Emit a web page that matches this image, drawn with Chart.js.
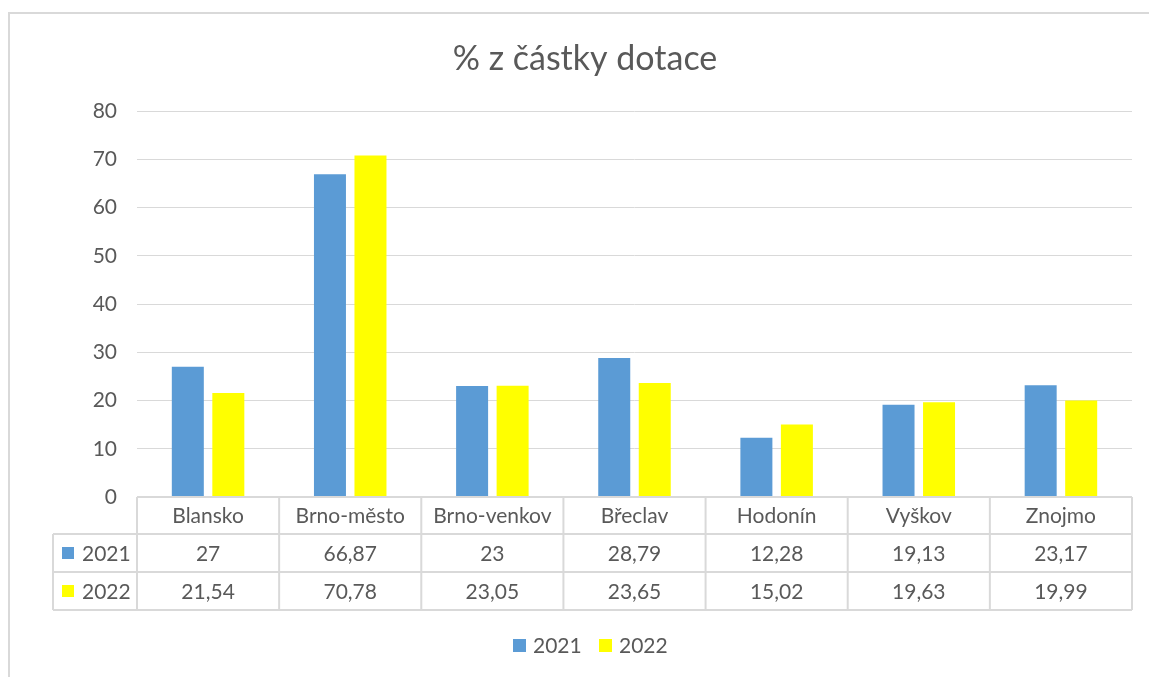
<!DOCTYPE html>
<html>
<head>
<meta charset="utf-8">
<script src="https://cdn.jsdelivr.net/npm/chart.js@4.4.0/dist/chart.umd.min.js"></script>
<style>
  html, body { margin: 0; padding: 0; background: #fff; }
  #wrap { width: 1149px; height: 677px; }
</style>
</head>
<body>
<div id="wrap"><canvas id="barchart" width="1149" height="677"></canvas></div>
<script>
var okresy = ["Blansko", "Brno-město", "Brno-venkov", "Břeclav", "Hodonín", "Vyškov", "Znojmo"];
var data2021 = [27, 66.87, 23, 28.79, 12.28, 19.13, 23.17];
var data2022 = [21.54, 70.78, 23.05, 23.65, 15.02, 19.63, 19.99];
var seriesNames = ["2021", "2022"];
var colors = ["#5B9BD5", "#FFFF00"];
var titleText = "% z částky dotace";

var FONT = "Lato, 'Open Sans', sans-serif";
var TXT = "#595959";

function fmt(v) {
  return String(v).replace(".", ",");
}

// draws the data table under the plot, the title, legend and frame
var tablePlugin = {
  id: "tablePlugin",
  afterDraw: function (chart) {
    let ctx = chart.ctx;
    let area = chart.chartArea;
    let x = chart.scales.x;
    let n = okresy.length;
    let step = (area.right - area.left) / n;
    let rowH = [37, 38, 38];
    let y0 = area.bottom;
    let y1 = y0 + rowH[0], y2 = y1 + rowH[1], y3 = y2 + rowH[2];
    let leftCol = 53;

    ctx.save();
    // outer frame
    ctx.strokeStyle = "#d9d9d9";
    ctx.lineWidth = 2;
    ctx.beginPath();
    ctx.moveTo(9, 677);
    ctx.lineTo(9, 13);
    ctx.lineTo(1149, 13);
    ctx.stroke();

    // table lines
    ctx.strokeStyle = "#d9d9d9";
    ctx.lineWidth = 2;
    ctx.beginPath();
    ctx.moveTo(area.left, y0); ctx.lineTo(area.right, y0);
    [y1, y2, y3].forEach(function (yy) {
      ctx.moveTo(leftCol, yy); ctx.lineTo(area.right, yy);
    });
    ctx.moveTo(leftCol, y1); ctx.lineTo(leftCol, y3);
    for (let i = 0; i <= n; i++) {
      let xx = area.left + step * i;
      ctx.moveTo(xx, y0); ctx.lineTo(xx, y3);
    }
    ctx.stroke();

    // texts
    ctx.fillStyle = TXT;
    ctx.font = "21px " + FONT;
    ctx.textAlign = "center";
    ctx.textBaseline = "middle";
    okresy.forEach(function (name, i) {
      let cx = x.getPixelForValue(i);
      ctx.fillText(name, cx, (y0 + y1) / 2 + 1);
      ctx.fillText(fmt(data2021[i]), cx, (y1 + y2) / 2 + 1);
      ctx.fillText(fmt(data2022[i]), cx, (y2 + y3) / 2 + 1);
    });

    // row headers
    [[y1, y2], [y2, y3]].forEach(function (r, k) {
      let cy = (r[0] + r[1]) / 2;
      ctx.fillStyle = colors[k];
      ctx.fillRect(62, cy - 6, 12, 12);
      ctx.fillStyle = TXT;
      ctx.textAlign = "left";
      ctx.fillText(seriesNames[k], 82, cy + 1);
    });

    // title
    ctx.textAlign = "center";
    ctx.font = "34px " + FONT;
    ctx.fillText(titleText, 585, 59);

    // legend
    ctx.font = "21px " + FONT;
    ctx.textAlign = "left";
    let lx = [513, 599];
    seriesNames.forEach(function (s, k) {
      ctx.fillStyle = colors[k];
      ctx.fillRect(lx[k], 639, 13, 13);
      ctx.fillStyle = TXT;
      ctx.fillText(s, lx[k] + 20, 646);
    });
    ctx.restore();
  },
};

let ctx = document.getElementById("barchart").getContext("2d");

let chart = new Chart(ctx, {
  type: "bar",
  data: {
    labels: okresy,
    datasets: [
      {
        label: seriesNames[0],
        backgroundColor: colors[0],
        data: data2021,
        categoryPercentage: 0.57,
        barPercentage: 0.79,
      },
      {
        label: seriesNames[1],
        backgroundColor: colors[1],
        data: data2022,
        categoryPercentage: 0.57,
        barPercentage: 0.79,
      },
    ],
  },
  options: {
    responsive: false,
    animation: false,
    layout: {
      padding: { left: 0, right: 17, top: 111, bottom: 180 },
    },
    plugins: {
      legend: { display: false },
      title: { display: false },
      tooltip: { enabled: false },
    },
    scales: {
      x: {
        display: false,
      },
      y: {
        min: 0,
        max: 80,
        ticks: {
          stepSize: 10,
          color: TXT,
          font: { size: 21, family: FONT },
          padding: 20,
        },
        border: { display: false },
        grid: {
          color: "#d9d9d9",
          lineWidth: 1,
          drawTicks: false,
        },
        afterFit: function (scale) {
          scale.width = 137;
        },
      },
    },
  },
  plugins: [tablePlugin],
});
</script>
</body>
</html>
